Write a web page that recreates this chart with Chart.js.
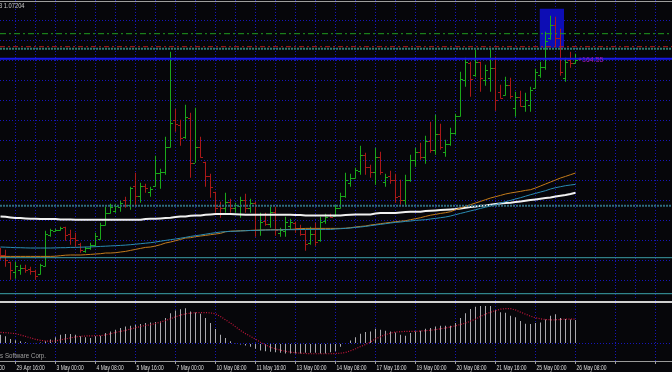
<!DOCTYPE html>
<html>
<head>
<meta charset="utf-8">
<script src="https://cdn.jsdelivr.net/npm/chart.js@4.4.1/dist/chart.umd.min.js"></script>
<style>
  html, body { margin: 0; padding: 0; background: #06060a; }
  #wrap { position: relative; width: 672px; height: 372px; overflow: hidden; background: #06060a; }
  #wrap canvas { position: absolute; left: 0; }
  #priceChart { top: 0; }
  #macdChart { top: 300px; }
  .rule { position: absolute; left: 0; width: 672px; }
</style>
</head>
<body>
<div id="wrap">
  <canvas id="priceChart" width="672" height="300"></canvas>
  <canvas id="macdChart" width="672" height="72"></canvas>
  <div class="rule" style="top:1px;height:1px;background:#9c9c9c"></div>
  <div class="rule" style="top:301px;height:2px;background:#cfcfcf"></div>
</div>
<script>
// H4 bars, oldest first, last one is 26 May 08:00
const opens = [
    1.0531, 1.0526, 1.0519, 1.0509, 1.0511, 1.0513, 1.0512, 1.0510, 1.0507, 1.0515,
    1.0546, 1.0550, 1.0551, 1.0554, 1.0547, 1.0543, 1.0537, 1.0530, 1.0533, 1.0536,
    1.0542, 1.0556, 1.0568, 1.0570, 1.0574, 1.0581, 1.0576, 1.0595, 1.0585, 1.0595,
    1.0589, 1.0595, 1.0608, 1.0609, 1.0634, 1.0661, 1.0656, 1.0644, 1.0663, 1.0618,
    1.0634, 1.0619, 1.0605, 1.0589, 1.0575, 1.0573, 1.0579, 1.0573, 1.0575, 1.0581,
    1.0573, 1.0578, 1.0551, 1.0560, 1.0557, 1.0569, 1.0548, 1.0550, 1.0555, 1.0558,
    1.0553, 1.0547, 1.0538, 1.0547, 1.0541, 1.0560, 1.0566, 1.0565, 1.0573, 1.0585,
    1.0598, 1.0603, 1.0610, 1.0626, 1.0614, 1.0609, 1.0624, 1.0599, 1.0605, 1.0601,
    1.0585, 1.0581, 1.0601, 1.0621, 1.0629, 1.0624, 1.0640, 1.0631, 1.0647, 1.0629,
    1.0637, 1.0648, 1.0665, 1.0701, 1.0718, 1.0706, 1.0719, 1.0701, 1.0703, 1.0713,
    1.0689, 1.0686, 1.0696, 1.0673, 1.0684, 1.0675, 1.0676, 1.0693, 1.0706, 1.0714,
    1.0743, 1.0756, 1.0743, 1.0703, 1.0721, 1.0718
];
const highs = [
    1.0533, 1.0531, 1.0519, 1.0519, 1.0516, 1.0516, 1.0514, 1.0511, 1.0517, 1.0550,
    1.0552, 1.0552, 1.0554, 1.0554, 1.0551, 1.0548, 1.0538, 1.0534, 1.0538, 1.0548,
    1.0558, 1.0574, 1.0577, 1.0577, 1.0580, 1.0584, 1.0594, 1.0608, 1.0598, 1.0597,
    1.0594, 1.0625, 1.0612, 1.0644, 1.0729, 1.0672, 1.0661, 1.0676, 1.0668, 1.0673,
    1.0644, 1.0619, 1.0607, 1.0589, 1.0579, 1.0588, 1.0582, 1.0578, 1.0584, 1.0587,
    1.0582, 1.0579, 1.0568, 1.0568, 1.0574, 1.0574, 1.0553, 1.0564, 1.0562, 1.0559,
    1.0556, 1.0551, 1.0554, 1.0558, 1.0564, 1.0567, 1.0567, 1.0576, 1.0588, 1.0608,
    1.0607, 1.0613, 1.0635, 1.0628, 1.0616, 1.0633, 1.0629, 1.0607, 1.0610, 1.0607,
    1.0601, 1.0606, 1.0626, 1.0633, 1.0638, 1.0645, 1.0659, 1.0666, 1.0657, 1.0641,
    1.0653, 1.0667, 1.0709, 1.0723, 1.0719, 1.0731, 1.0719, 1.0716, 1.0733, 1.0724,
    1.0696, 1.0704, 1.0703, 1.0689, 1.0690, 1.0688, 1.0694, 1.0712, 1.0719, 1.0749,
    1.0765, 1.0764, 1.0752, 1.0723, 1.0729, 1.0727
];
const lows = [
    1.0521, 1.0514, 1.0501, 1.0502, 1.0506, 1.0508, 1.0506, 1.0501, 1.0506, 1.0514,
    1.0544, 1.0549, 1.0550, 1.0540, 1.0536, 1.0534, 1.0528, 1.0528, 1.0531, 1.0534,
    1.0541, 1.0555, 1.0567, 1.0568, 1.0569, 1.0573, 1.0571, 1.0574, 1.0578, 1.0588,
    1.0584, 1.0594, 1.0592, 1.0606, 1.0633, 1.0649, 1.0635, 1.0642, 1.0603, 1.0618,
    1.0623, 1.0594, 1.0583, 1.0568, 1.0563, 1.0568, 1.0568, 1.0568, 1.0563, 1.0568,
    1.0568, 1.0544, 1.0545, 1.0555, 1.0553, 1.0545, 1.0544, 1.0544, 1.0551, 1.0548,
    1.0545, 1.0530, 1.0536, 1.0535, 1.0539, 1.0557, 1.0563, 1.0564, 1.0572, 1.0583,
    1.0594, 1.0602, 1.0606, 1.0606, 1.0603, 1.0596, 1.0606, 1.0594, 1.0597, 1.0578,
    1.0576, 1.0574, 1.0599, 1.0614, 1.0621, 1.0617, 1.0628, 1.0626, 1.0631, 1.0624,
    1.0635, 1.0646, 1.0664, 1.0694, 1.0684, 1.0704, 1.0689, 1.0695, 1.0689, 1.0670,
    1.0682, 1.0685, 1.0682, 1.0664, 1.0674, 1.0669, 1.0669, 1.0692, 1.0703, 1.0711,
    1.0741, 1.0734, 1.0705, 1.0699, 1.0713, 1.0717
];
const closes = [
    1.0526, 1.0521, 1.0511, 1.0515, 1.0513, 1.0511, 1.0510, 1.0505, 1.0516, 1.0547,
    1.0551, 1.0551, 1.0553, 1.0546, 1.0543, 1.0541, 1.0531, 1.0533, 1.0536, 1.0545,
    1.0556, 1.0568, 1.0574, 1.0575, 1.0578, 1.0576, 1.0593, 1.0585, 1.0595, 1.0593,
    1.0592, 1.0608, 1.0609, 1.0634, 1.0658, 1.0657, 1.0643, 1.0664, 1.0618, 1.0634,
    1.0624, 1.0605, 1.0594, 1.0573, 1.0573, 1.0579, 1.0573, 1.0576, 1.0581, 1.0573,
    1.0578, 1.0551, 1.0559, 1.0557, 1.0569, 1.0551, 1.0551, 1.0559, 1.0559, 1.0553,
    1.0547, 1.0537, 1.0547, 1.0539, 1.0559, 1.0564, 1.0564, 1.0573, 1.0585, 1.0601,
    1.0603, 1.0611, 1.0626, 1.0614, 1.0609, 1.0624, 1.0609, 1.0604, 1.0601, 1.0584,
    1.0581, 1.0601, 1.0621, 1.0629, 1.0624, 1.0640, 1.0631, 1.0647, 1.0634, 1.0637,
    1.0648, 1.0665, 1.0702, 1.0719, 1.0702, 1.0719, 1.0703, 1.0711, 1.0713, 1.0681,
    1.0683, 1.0696, 1.0685, 1.0684, 1.0675, 1.0681, 1.0691, 1.0709, 1.0714, 1.0740,
    1.0756, 1.0743, 1.0709, 1.0719, 1.0718, 1.0721
];

// moving averages drawn on the price window
const maWhite = [
    1.05643, 1.05640, 1.05633, 1.05627, 1.05627, 1.05623, 1.05620, 1.05620, 1.05617, 1.05617,
    1.05617, 1.05617, 1.05613, 1.05613, 1.05613, 1.05610, 1.05610, 1.05610, 1.05610, 1.05610,
    1.05610, 1.05610, 1.05610, 1.05610, 1.05610, 1.05610, 1.05610, 1.05610, 1.05610, 1.05617,
    1.05620, 1.05620, 1.05623, 1.05627, 1.05630, 1.05637, 1.05643, 1.05643, 1.05650, 1.05653,
    1.05653, 1.05660, 1.05663, 1.05667, 1.05667, 1.05667, 1.05667, 1.05665, 1.05663, 1.05660,
    1.05660, 1.05660, 1.05660, 1.05660, 1.05660, 1.05660, 1.05660, 1.05660, 1.05660, 1.05657,
    1.05657, 1.05653, 1.05653, 1.05653, 1.05653, 1.05653, 1.05653, 1.05653, 1.05653, 1.05657,
    1.05660, 1.05663, 1.05663, 1.05663, 1.05663, 1.05673, 1.05677, 1.05677, 1.05677, 1.05677,
    1.05683, 1.05687, 1.05690, 1.05690, 1.05690, 1.05697, 1.05700, 1.05703, 1.05707, 1.05710,
    1.05713, 1.05717, 1.05723, 1.05730, 1.05737, 1.05743, 1.05750, 1.05753, 1.05760, 1.05767,
    1.05773, 1.05777, 1.05780, 1.05787, 1.05793, 1.05800, 1.05807, 1.05813, 1.05820, 1.05827,
    1.05833, 1.05843, 1.05850, 1.05857, 1.05867, 1.05880
];
const maTeal = [
    1.05337, 1.05335, 1.05333, 1.05330, 1.05330, 1.05328, 1.05327, 1.05327, 1.05327, 1.05327,
    1.05327, 1.05328, 1.05330, 1.05330, 1.05333, 1.05333, 1.05335, 1.05337, 1.05338, 1.05340,
    1.05343, 1.05345, 1.05348, 1.05350, 1.05353, 1.05356, 1.05360, 1.05365, 1.05370, 1.05375,
    1.05380, 1.05387, 1.05395, 1.05403, 1.05410, 1.05417, 1.05425, 1.05433, 1.05443, 1.05450,
    1.05457, 1.05465, 1.05473, 1.05480, 1.05487, 1.05490, 1.05493, 1.05495, 1.05497, 1.05500,
    1.05502, 1.05503, 1.05505, 1.05507, 1.05507, 1.05508, 1.05508, 1.05510, 1.05510, 1.05510,
    1.05512, 1.05512, 1.05513, 1.05513, 1.05513, 1.05513, 1.05513, 1.05517, 1.05520, 1.05523,
    1.05527, 1.05533, 1.05537, 1.05543, 1.05550, 1.05557, 1.05563, 1.05570, 1.05577, 1.05583,
    1.05587, 1.05593, 1.05597, 1.05603, 1.05607, 1.05610, 1.05617, 1.05623, 1.05630, 1.05637,
    1.05647, 1.05660, 1.05673, 1.05685, 1.05698, 1.05710, 1.05723, 1.05735, 1.05747, 1.05760,
    1.05777, 1.05790, 1.05803, 1.05817, 1.05830, 1.05845, 1.05860, 1.05873, 1.05887, 1.05900,
    1.05917, 1.05930, 1.05940, 1.05950, 1.05957, 1.05963
];
const maOrange = [
    1.05243, 1.05243, 1.05243, 1.05243, 1.05243, 1.05243, 1.05243, 1.05243, 1.05243, 1.05243,
    1.05243, 1.05245, 1.05250, 1.05255, 1.05257, 1.05257, 1.05257, 1.05260, 1.05263, 1.05267,
    1.05270, 1.05277, 1.05277, 1.05280, 1.05287, 1.05293, 1.05303, 1.05313, 1.05323, 1.05333,
    1.05337, 1.05347, 1.05360, 1.05377, 1.05387, 1.05400, 1.05413, 1.05427, 1.05430, 1.05440,
    1.05447, 1.05453, 1.05460, 1.05467, 1.05473, 1.05490, 1.05495, 1.05497, 1.05500, 1.05500,
    1.05503, 1.05505, 1.05507, 1.05508, 1.05510, 1.05510, 1.05510, 1.05512, 1.05513, 1.05517,
    1.05520, 1.05523, 1.05523, 1.05523, 1.05523, 1.05523, 1.05523, 1.05523, 1.05523, 1.05525,
    1.05530, 1.05537, 1.05543, 1.05547, 1.05557, 1.05563, 1.05570, 1.05577, 1.05583, 1.05590,
    1.05595, 1.05600, 1.05610, 1.05620, 1.05630, 1.05643, 1.05655, 1.05663, 1.05673, 1.05680,
    1.05690, 1.05710, 1.05727, 1.05745, 1.05760, 1.05777, 1.05793, 1.05810, 1.05827, 1.05840,
    1.05853, 1.05867, 1.05877, 1.05885, 1.05893, 1.05903, 1.05910, 1.05927, 1.05947, 1.05967,
    1.05987, 1.06007, 1.06027, 1.06043, 1.06060, 1.06077
];

// MACD sub window
const macdMain = [
    0.0009, 0.00073, 0.00047, 0.00033, 0.00023, 0.00013, 0.00007, 0.00003, 0.0001, 0.00023,
    0.0004, 0.00063, 0.0009, 0.00097, 0.00097, 0.0009, 0.00073, 0.00063, 0.00057, 0.00073,
    0.0008, 0.00107, 0.00123, 0.0014, 0.00157, 0.00173, 0.0018, 0.0019, 0.00197, 0.00207,
    0.00213, 0.00217, 0.00223, 0.00257, 0.00307, 0.00333, 0.00347, 0.00357, 0.00323, 0.00313,
    0.003, 0.00257, 0.00207, 0.00147, 0.0009, 0.00057, 0.00023, 0.00003, -0.0001, -0.0002,
    -0.00033, -0.00053, -0.0007, -0.00077, -0.00083, -0.00087, -0.00093, -0.001, -0.001, -0.001,
    -0.001, -0.00093, -0.00093, -0.00093, -0.001, -0.001, -0.00087, -0.00077, -0.00033, -0.00005,
    0.0003, 0.00063, 0.001, 0.00117, 0.00123, 0.0015, 0.0014, 0.0013, 0.00123, 0.00113,
    0.0009, 0.0008, 0.00107, 0.00123, 0.0013, 0.0015, 0.00157, 0.00173, 0.0018, 0.0018,
    0.0018, 0.00207, 0.00257, 0.00307, 0.0035, 0.00373, 0.0038, 0.0038, 0.0038, 0.0034,
    0.00317, 0.0031, 0.0028, 0.00265, 0.00227, 0.002, 0.00197, 0.00207, 0.00213, 0.00243,
    0.00282, 0.00297, 0.00257, 0.00247, 0.00243, 0.00237
];
const macdSignal = [
    0.00113, 0.0011, 0.00105, 0.001, 0.00087, 0.00073, 0.00057, 0.00043, 0.00033, 0.00027,
    0.00023, 0.00027, 0.00037, 0.00047, 0.00057, 0.00067, 0.00073, 0.00077, 0.00077, 0.0008,
    0.0008, 0.00087, 0.001, 0.00113, 0.00123, 0.00133, 0.00147, 0.0016, 0.00173, 0.00183,
    0.0019, 0.00203, 0.00217, 0.00233, 0.0025, 0.0027, 0.00287, 0.003, 0.00307, 0.00313,
    0.00313, 0.00313, 0.0031, 0.003, 0.00273, 0.0024, 0.00207, 0.0017, 0.00133, 0.001,
    0.00073, 0.00043, 0.00013, -0.00013, -0.00037, -0.00053, -0.00067, -0.00077, -0.00087, -0.00093,
    -0.00097, -0.001, -0.00103, -0.00103, -0.00103, -0.00103, -0.00103, -0.001, -0.00097, -0.0009,
    -0.00073, -0.00053, -0.0003, -0.0001, 0.00017, 0.00047, 0.0007, 0.0009, 0.00105, 0.00117,
    0.0012, 0.00123, 0.00123, 0.00123, 0.00127, 0.0013, 0.00135, 0.0014, 0.0015, 0.00157,
    0.00167, 0.0018, 0.00193, 0.00207, 0.00227, 0.00247, 0.00273, 0.00297, 0.00317, 0.00333,
    0.00347, 0.00353, 0.00353, 0.0034, 0.00317, 0.00297, 0.00277, 0.0026, 0.0025, 0.00243,
    0.0024, 0.0024, 0.00243, 0.00247, 0.00247, 0.00247
];

// time axis, one label every 8 bars starting 5 bars before the first bar
const tickLabels = [
    '28 Apr 08:00', '29 Apr 16:00', '3 May 00:00', '4 May 08:00', '5 May 16:00', '7 May 00:00',
    '10 May 08:00', '11 May 16:00', '13 May 00:00', '14 May 08:00', '17 May 16:00', '19 May 00:00',
    '20 May 08:00', '21 May 16:00', '25 May 00:00', '26 May 08:00'
];
const firstTickBar = -5;
const barsPerLabel = 8;

// line objects on the price window
const levelPrices = [1.0747, 1.0734, 1.0732, 1.0722, 1.0575, 1.0523, 1.0487];
const levelStyles = [
    { color: '#1f9c1f', width: 1, dash: [6, 3, 2, 3] },
    { color: '#b41c1c', width: 1, dash: [5, 3, 2, 3] },
    { color: '#2c7c70', width: 2, dash: [2, 1] },
    { color: '#1818e8', width: 2, dash: [] },
    { color: '#2f6c80', width: 2, dash: [2, 1] },
    { color: '#3b9ca6', width: 1, dash: [] },
    { color: '#3aa2aa', width: 1, dash: [] }
];

// rectangle object (bar index span, price span)
const boxBars = [107.8, 112.7];
const boxPrices = [1.0772, 1.0733];

const headerText = '3 1.07204';
const profitText = '+164.55';
const copyrightText = 'MetaQuotes Software Corp.';

const FONT = "'Liberation Sans', Arial, sans-serif";
const GRID_BLUE = '#1616b8';
const BAR_SPAN = { min: -0.1, max: 134.3 };   // 5 px per bar across 672 px
const PRICE_SPAN = { min: 1.04807, max: 1.07807 };
const MACD_SPAN = { min: -0.00176, max: 0.0044 };

function points(values) {
    return values.map((v, i) => ({ x: i, y: v }));
}

function candleColor(i) {
    return closes[i] >= opens[i] ? '#1aa81a' : '#aa1818';
}

function gridBars(step) {
    const ticks = [];
    for (let v = firstTickBar; v <= BAR_SPAN.max; v += step) {
        if (v >= BAR_SPAN.min) ticks.push({ value: v });
    }
    return ticks;
}

function priceGrid() {
    const ticks = [];
    for (let j = 0; j < 14; j++) ticks.push({ value: +(1.0760 - 0.002 * j).toFixed(4) });
    return ticks;
}

// the terminal font is narrow, so squeeze text horizontally
function narrowText(ctx, text, x, y, squeeze) {
    ctx.save();
    ctx.translate(x, y);
    ctx.scale(squeeze, 1);
    ctx.fillText(text, 0, 0);
    ctx.restore();
}

// open tick to the left, close tick to the right of each wick
const barTicks = {
    id: 'barTicks',
    afterDatasetDraw(chart, args) {
        if (args.meta.type !== 'bar') return;
        const { ctx, scales: { x, y } } = chart;
        ctx.save();
        opens.forEach((o, i) => {
            const px = Math.round(x.getPixelForValue(i) - 0.5);
            ctx.fillStyle = candleColor(i);
            ctx.fillRect(px - 2, Math.round(y.getPixelForValue(o)), 2, 1);
            ctx.fillRect(px + 1, Math.round(y.getPixelForValue(closes[i])), 2, 1);
        });
        ctx.restore();
    }
};

const priceLabels = {
    id: 'priceLabels',
    afterDraw(chart) {
        const { ctx, scales: { x, y } } = chart;
        const last = closes.length - 1;
        ctx.save();
        ctx.font = '7px ' + FONT;
        ctx.textBaseline = 'middle';
        ctx.fillStyle = '#c8c8c8';
        narrowText(ctx, headerText, -1, 6.5, 0.82);
        ctx.fillStyle = '#a21cb4';
        ctx.fillText(profitText, x.getPixelForValue(last + 0.5), y.getPixelForValue(closes[last]));
        ctx.restore();
    }
};

const macdLabels = {
    id: 'macdLabels',
    beforeDatasetsDraw(chart) {
        const { ctx } = chart;
        ctx.save();
        ctx.font = '7px ' + FONT;
        ctx.textBaseline = 'middle';
        ctx.textAlign = 'right';
        ctx.fillStyle = '#a0a0a0';
        narrowText(ctx, copyrightText, 46, 56, 0.88);
        ctx.restore();
    },
    afterDraw(chart) {
        const { ctx, chartArea, scales: { x } } = chart;
        ctx.save();
        ctx.font = '7.5px ' + FONT;
        ctx.textBaseline = 'alphabetic';
        ctx.fillStyle = '#dcdcdc';
        tickLabels.forEach((label, j) => {
            const px = x.getPixelForValue(firstTickBar + j * barsPerLabel);
            narrowText(ctx, label, px + 1, chartArea.bottom + 8.5, 0.66);
        });
        ctx.restore();
    }
};

function maLine(values, color, width) {
    return {
        type: 'line', data: points(values), borderColor: color, borderWidth: width,
        pointRadius: 0, tension: 0, order: 3
    };
}

const baseOptions = {
    responsive: false,
    animation: false,
    events: [],
    plugins: { legend: { display: false }, tooltip: { enabled: false } },
    elements: { point: { radius: 0 } }
};

function renderPriceChart() {
    const datasets = [
        {
            type: 'line', data: boxBars.map(b => ({ x: b, y: boxPrices[0] })),
            borderColor: 'rgba(0,0,0,0)', borderWidth: 0, pointRadius: 0,
            fill: '+1', backgroundColor: '#0d0db4', order: 10
        },
        {
            type: 'line', data: boxBars.map(b => ({ x: b, y: boxPrices[1] })),
            borderColor: 'rgba(0,0,0,0)', borderWidth: 0, pointRadius: 0, fill: false, order: 10
        },
        {
            type: 'bar', data: highs.map((h, i) => ({ x: i, y: [lows[i], h] })),
            backgroundColor: opens.map((o, i) => candleColor(i)),
            barThickness: 1, inflateAmount: 0, borderWidth: 0, order: 5
        },
        maLine(maTeal, '#2b8db4', 1),
        maLine(maOrange, '#c47c1c', 1),
        maLine(maWhite, '#f0f0f0', 2),
        ...levelPrices.map((p, i) => ({
            type: 'line', data: [{ x: BAR_SPAN.min, y: p }, { x: BAR_SPAN.max, y: p }],
            borderColor: levelStyles[i].color, borderWidth: levelStyles[i].width,
            borderDash: levelStyles[i].dash, pointRadius: 0, order: 1
        }))
    ];

    new Chart(document.getElementById('priceChart'), {
        type: 'line',
        data: { datasets },
        options: {
            ...baseOptions,
            layout: { padding: 0 },
            scales: {
                x: {
                    type: 'linear', min: BAR_SPAN.min, max: BAR_SPAN.max, offset: false,
                    grid: { color: GRID_BLUE, offset: false, drawTicks: false },
                    border: { display: false, dash: [1, 2] },
                    ticks: { display: false },
                    afterBuildTicks: s => { s.ticks = gridBars(4); }
                },
                y: {
                    type: 'linear', min: PRICE_SPAN.min, max: PRICE_SPAN.max,
                    grid: { color: GRID_BLUE, drawTicks: false },
                    border: { display: false, dash: [1, 2] },
                    ticks: { display: false },
                    afterBuildTicks: s => { s.ticks = priceGrid(); }
                }
            }
        },
        plugins: [barTicks, priceLabels]
    });
}

function renderMacdChart() {
    new Chart(document.getElementById('macdChart'), {
        type: 'line',
        data: {
            datasets: [
                {
                    type: 'bar', data: points(macdMain), backgroundColor: '#a9a9ae',
                    barThickness: 1, inflateAmount: 0, borderWidth: 0, order: 2
                },
                {
                    type: 'line', data: points(macdSignal), borderColor: '#c8163c',
                    borderWidth: 1.2, borderDash: [1, 1.5], pointRadius: 0, order: 1
                }
            ]
        },
        options: {
            ...baseOptions,
            layout: { padding: { left: 0, right: 0, top: 0, bottom: 8 } },
            scales: {
                x: {
                    type: 'linear', min: BAR_SPAN.min, max: BAR_SPAN.max, offset: false,
                    grid: { color: GRID_BLUE, offset: false, drawTicks: true, tickLength: 3, tickColor: '#9a9a9a', tickWidth: 1 },
                    border: { display: true, color: '#9a9a9a', width: 1, dash: [1, 2] },
                    ticks: { display: false },
                    afterBuildTicks: s => { s.ticks = gridBars(barsPerLabel); }
                },
                y: {
                    type: 'linear', min: MACD_SPAN.min, max: MACD_SPAN.max,
                    grid: { color: GRID_BLUE, drawTicks: false },
                    border: { display: false, dash: [1, 2] },
                    ticks: { display: false },
                    afterBuildTicks: s => { s.ticks = [{ value: 0 }]; }
                }
            }
        },
        plugins: [macdLabels]
    });
}

renderPriceChart();
renderMacdChart();
</script>
</body>
</html>
